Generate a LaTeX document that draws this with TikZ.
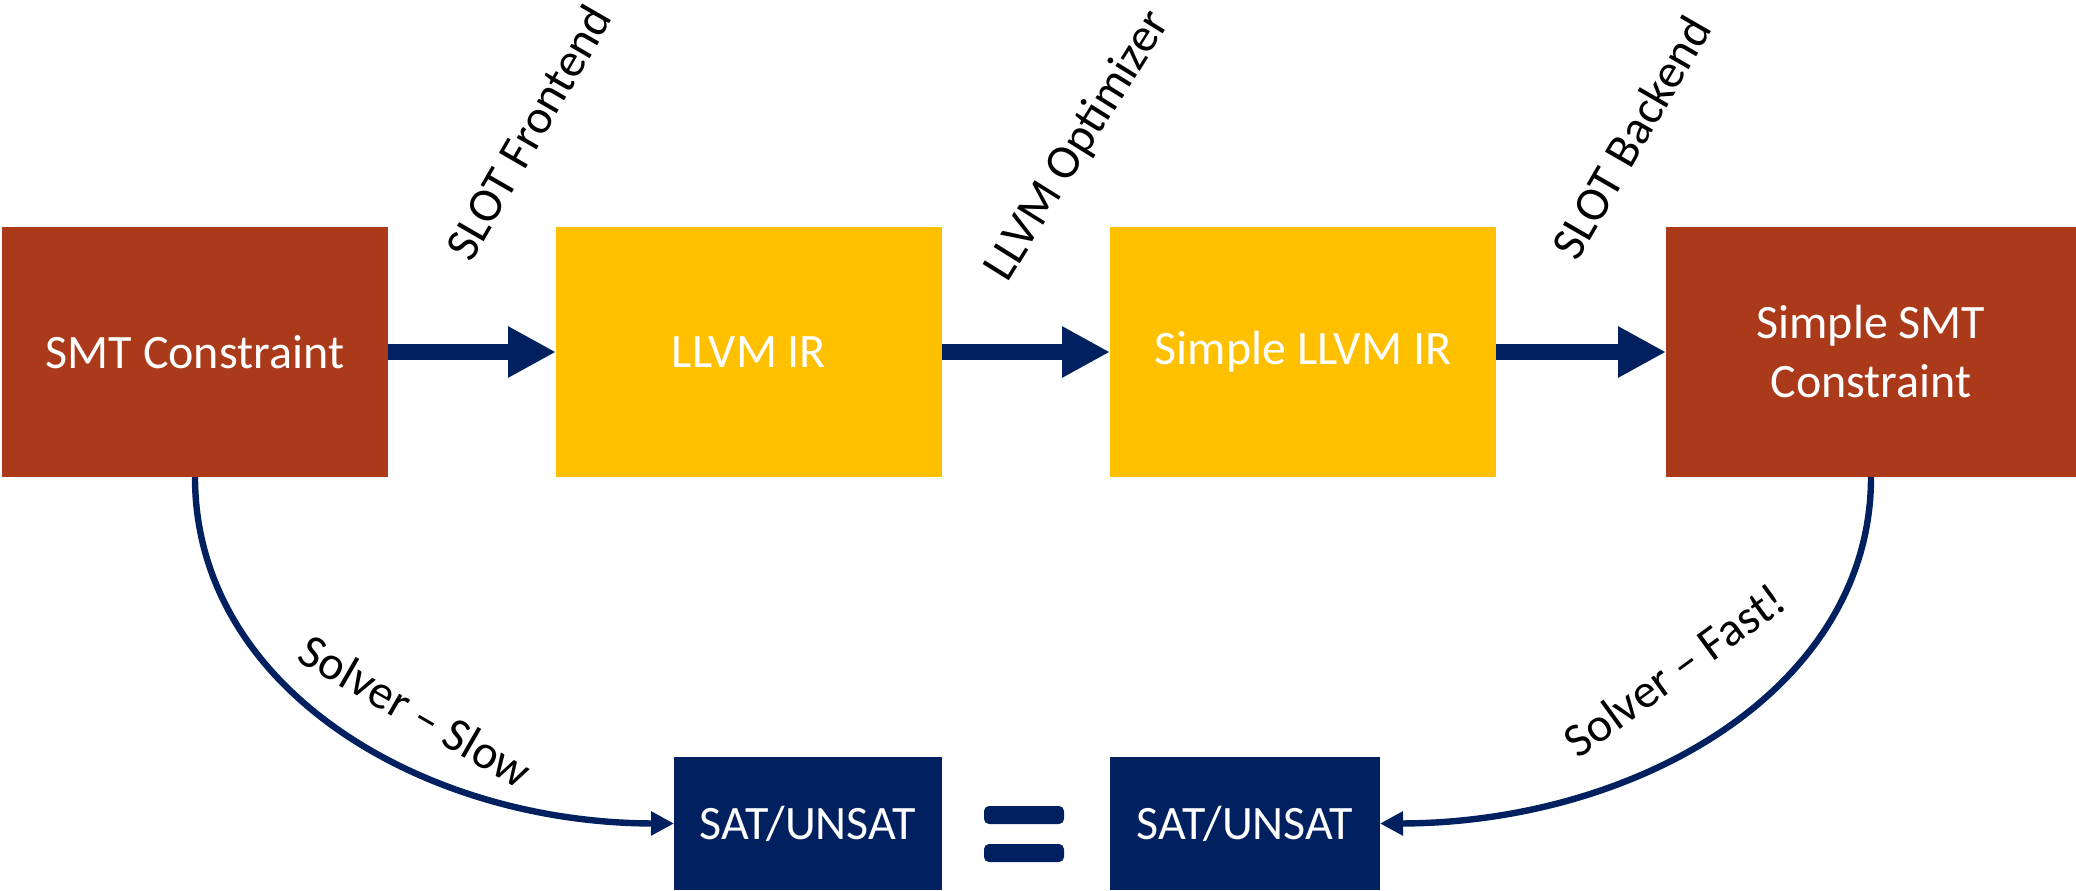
\documentclass[tikz,border=0pt]{standalone}
\usepackage{fontspec}
\setmainfont{Carlito}
\usetikzlibrary{arrows.meta}
\definecolor{brick}{HTML}{AB3A1B}
\definecolor{gold}{HTML}{FFC000}
\definecolor{navy}{HTML}{002060}
\begin{document}
\begin{tikzpicture}[x=0.5pt,y=-0.5pt,
  box/.style={inner sep=0pt, outer sep=0pt, minimum height=125pt, text=white,
    font=\fontsize{24}{29.5}\selectfont, align=center},
  satbox/.style={box, fill=navy, minimum height=66.5pt},
  lbl/.style={inner sep=0pt, text=black, font=\fontsize{24}{29}\selectfont},
  bigarrow/.style={navy, line width=8pt, -{Triangle[length=24pt,width=24pt]}},
  thinarrow/.style={navy, line width=3.2pt, -{Triangle[length=11.5pt,width=11.5pt]}},
  eqbar/.style={fill=navy, rounded corners=2.5pt}
]
\useasboundingbox (0,0) rectangle (2076,890);
\node[box, fill=brick, minimum width=193pt] (smt) at (195,352) {SMT Constraint};
\node[box, fill=gold, minimum width=193pt] (llvm) at (749,352) {LLVM IR};
\node[box, fill=gold, minimum width=193pt] (sllvm) at (1303,352) {Simple LLVM IR};
\node[box, fill=brick, minimum width=205pt] (ssmt) at (1871,352) {Simple SMT\\Constraint};
\node[satbox, minimum width=134pt] (sat1) at (808,823.5) {SAT/UNSAT};
\node[satbox, minimum width=135pt] (sat2) at (1245,823.5) {SAT/UNSAT};

\draw[bigarrow] (smt.east) -- (llvm.west);
\draw[bigarrow] (llvm.east) -- (sllvm.west);
\draw[bigarrow] (sllvm.east) -- (ssmt.west);

\node[lbl, rotate=60] (lfront) at (528,132) {SLOT Frontend};
\node[lbl, rotate=58] (lopt) at (1078,146) {LLVM Optimizer};
\node[lbl, rotate=60] (lback) at (1631,137) {SLOT Backend};

\draw[thinarrow] (smt.south) .. controls (195,690) and (425,823) .. (sat1.west);
\draw[thinarrow] (ssmt.south) .. controls (1871,690) and (1635,823) .. (sat2.east);

\node[lbl, rotate=-30] (lslow) at (416,711) {Solver – Slow};
\node[lbl, rotate=36] (lfast) at (1674,670) {Solver – Fast!};

\fill[eqbar] (984,806) rectangle (1064,824);
\fill[eqbar] (984,844) rectangle (1064,862);
\end{tikzpicture}
\end{document}
